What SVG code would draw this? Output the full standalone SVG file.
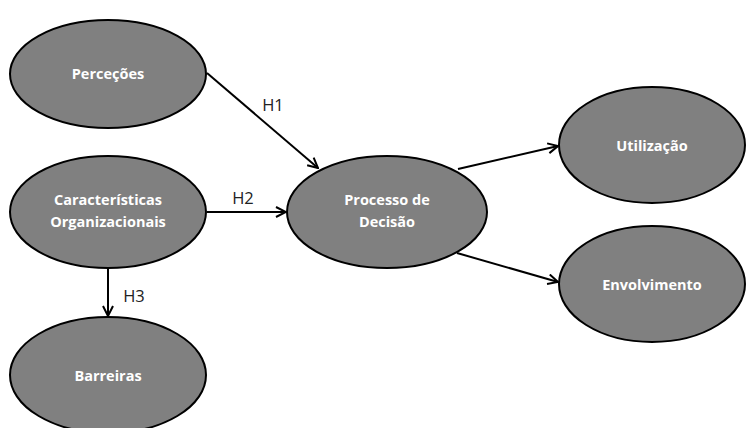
<svg xmlns="http://www.w3.org/2000/svg" width="747" height="428" viewBox="0 0 747 428">
<style>
.node ellipse{fill:#808080;stroke:#000;stroke-width:2}
.node text{fill:#fff;font-family:"Open Sans","Liberation Sans",sans-serif;font-weight:bold;font-size:14.5px;text-anchor:middle}
.conn line{stroke:#000;stroke-width:2;fill:none}
.lbl{fill:#222;font-family:"Open Sans","Liberation Sans",sans-serif;font-size:16.5px}
</style>
<defs>
<marker id="arr" viewBox="0 0 12 12" refX="11" refY="6" markerWidth="12" markerHeight="12" markerUnits="userSpaceOnUse" orient="auto">
<polyline points="1,1 11,6 1,11" fill="none" stroke="#000" stroke-width="2"/>
</marker>
</defs>
<rect width="747" height="428" fill="#fff"/>
<g class="conn">
<line x1="207" y1="73" x2="318" y2="168" marker-end="url(#arr)"/>
<line x1="207" y1="212" x2="286" y2="212" marker-end="url(#arr)"/>
<line x1="108" y1="268" x2="108" y2="316" marker-end="url(#arr)"/>
<line x1="458" y1="169" x2="558" y2="146" marker-end="url(#arr)"/>
<line x1="457" y1="253" x2="558" y2="282" marker-end="url(#arr)"/>
<text class="lbl" x="273" y="111" text-anchor="middle">H1</text>
<text class="lbl" x="243" y="204" text-anchor="middle">H2</text>
<text class="lbl" x="134" y="302" text-anchor="middle">H3</text>
</g>
<g id="percecoes" class="node"><ellipse cx="108" cy="74" rx="98" ry="54"/><text x="108" y="79">Perceções</text></g>
<g id="caracteristicas" class="node"><ellipse cx="108" cy="212" rx="98" ry="56"/><text x="108" y="205">Características</text><text x="108" y="227">Organizacionais</text></g>
<g id="barreiras" class="node"><ellipse cx="108" cy="375" rx="98" ry="58"/><text x="108" y="381">Barreiras</text></g>
<g id="processo" class="node"><ellipse cx="387" cy="212" rx="100" ry="56"/><text x="387" y="205">Processo de</text><text x="387" y="227">Decisão</text></g>
<g id="utilizacao" class="node"><ellipse cx="652" cy="145" rx="93" ry="58"/><text x="652" y="151">Utilização</text></g>
<g id="envolvimento" class="node"><ellipse cx="652" cy="284" rx="93" ry="58"/><text x="652" y="290">Envolvimento</text></g>
</svg>
